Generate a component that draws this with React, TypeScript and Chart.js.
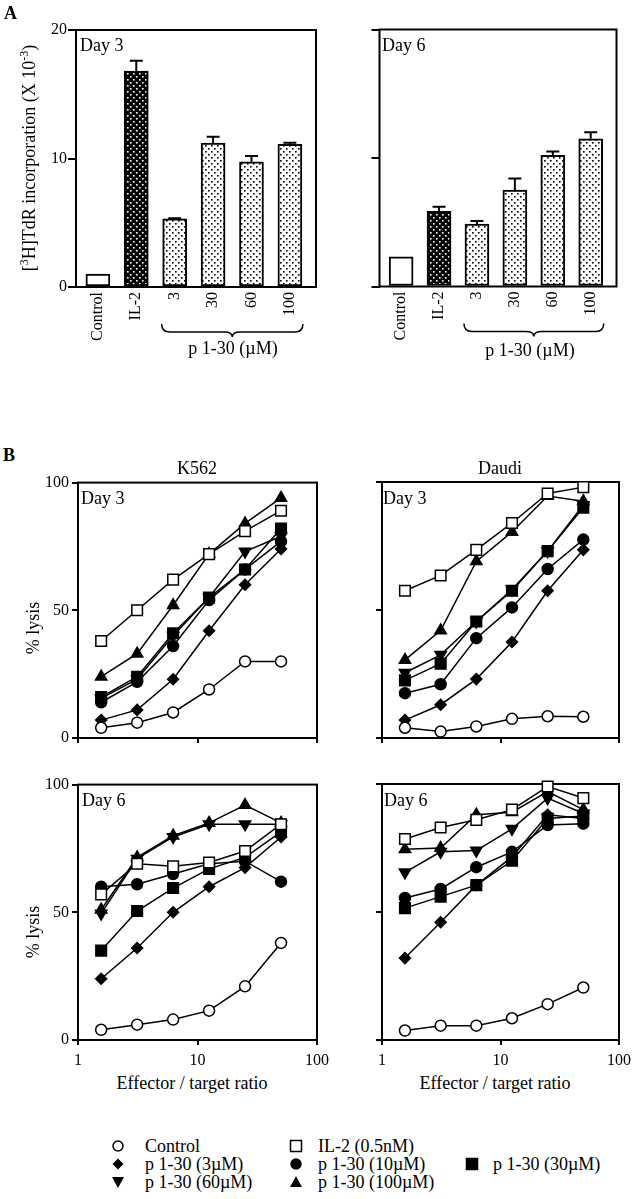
import React, { useEffect, useRef } from 'react';
import { Chart, registerables } from 'chart.js';

Chart.register(...registerables);

// ---------- Panel A data ----------
const BAR_CATEGORIES = ['Control', 'IL-2', '3', '30', '60', '100'];
const BAR_Y_TICKS = [0, 10, 20];
const DAY3_BARS = [1.0, 16.8, 5.3, 11.2, 9.75, 11.1];
const DAY3_ERRORS = [0, 0.8, 0.05, 0.5, 0.45, 0.12];
const DAY6_BARS = [2.3, 5.85, 4.85, 7.5, 10.2, 11.5];
const DAY6_ERRORS = [0, 0.35, 0.25, 0.9, 0.3, 0.5];

// ---------- Panel B data ----------
const ET_RATIOS = [1.5625, 3.125, 6.25, 12.5, 25, 50];
const X_TICKS = [1, 10, 100];
const LYSIS_TICKS = [0, 50, 100];
const SERIES_LABELS = ['Control', 'IL-2 (0.5nM)', 'p 1-30 (3µM)', 'p 1-30 (10µM)', 'p 1-30 (30µM)', 'p 1-30 (60µM)', 'p 1-30 (100µM)'];

const K562_D3_CONTROL = [4, 6, 10, 19, 30, 30];
const K562_D3_IL2 = [38, 50, 62, 72, 81, 89];
const K562_D3_P3 = [7, 11, 23, 42, 60, 74];
const K562_D3_P10 = [14, 22, 36, 54, 66, 77];
const K562_D3_P30 = [16, 24, 41, 55, 66, 82];
const K562_D3_P60 = [15.5, 23, 40, 55, 73, 79];
const K562_D3_P100 = [24, 33, 52, 72, 84, 94];

const DAUDI_D3_CONTROL = [4, 2.5, 4.5, 7.5, 8.5, 8.3];
const DAUDI_D3_IL2 = [57.5, 63.5, 73.5, 84, 95.5, 98];
const DAUDI_D3_P3 = [7, 13, 23, 37.5, 57.5, 73.5];
const DAUDI_D3_P10 = [17.5, 21, 39, 51, 66, 77.5];
const DAUDI_D3_P30 = [22.5, 29, 45.5, 57.5, 73, 90];
const DAUDI_D3_P60 = [25.5, 32.5, 45.5, 58, 73, 91];
const DAUDI_D3_P100 = [30.5, 42, 69, 80.5, 94.5, 92.5];

const K562_D6_CONTROL = [4, 6, 8, 11.5, 21, 38];
const K562_D6_IL2 = [57, 69, 68, 69.5, 74, 84.5];
const K562_D6_P3 = [24, 36, 50, 60, 67.5, 79.5];
const K562_D6_P10 = [60, 61, 65, 69, 70, 62];
const K562_D6_P30 = [35, 50.5, 59.5, 67, 71.5, 81.5];
const K562_D6_P60 = [49.5, 71, 79.5, 84.5, 84.5, 84.5];
const K562_D6_P100 = [51, 71.5, 80, 85, 92, 85];

const DAUDI_D6_CONTROL = [3.7, 5.6, 5.6, 8.5, 14, 20.5];
const DAUDI_D6_IL2 = [78.5, 83, 86, 90, 99, 94.5];
const DAUDI_D6_P3 = [32, 46, 60.5, 71.5, 88, 86.5];
const DAUDI_D6_P10 = [55.5, 59, 67.5, 73.5, 84, 84.5];
const DAUDI_D6_P30 = [51.5, 56, 60.5, 70, 86.5, 87.5];
const DAUDI_D6_P60 = [65.5, 73.5, 74, 82.5, 94.5, 88.5];
const DAUDI_D6_P100 = [74.5, 75, 88, 89, 97, 90];

const K562_D3 = [K562_D3_CONTROL, K562_D3_IL2, K562_D3_P3, K562_D3_P10, K562_D3_P30, K562_D3_P60, K562_D3_P100];
const DAUDI_D3 = [DAUDI_D3_CONTROL, DAUDI_D3_IL2, DAUDI_D3_P3, DAUDI_D3_P10, DAUDI_D3_P30, DAUDI_D3_P60, DAUDI_D3_P100];
const K562_D6 = [K562_D6_CONTROL, K562_D6_IL2, K562_D6_P3, K562_D6_P10, K562_D6_P30, K562_D6_P60, K562_D6_P100];
const DAUDI_D6 = [DAUDI_D6_CONTROL, DAUDI_D6_IL2, DAUDI_D6_P3, DAUDI_D6_P10, DAUDI_D6_P30, DAUDI_D6_P60, DAUDI_D6_P100];

// ---------- styles ----------
const FONT = '"Liberation Serif", "Times New Roman", serif';
const MARKERS = [
  { style: 'circle', filled: false, r: 5.5, rot: 0 },
  { style: 'rect', filled: false, r: 7.5, rot: 0 },
  { style: 'rectRot', filled: true, r: 5.5, rot: 0 },
  { style: 'circle', filled: true, r: 5.5, rot: 0 },
  { style: 'rect', filled: true, r: 7.5, rot: 0 },
  { style: 'triangle', filled: true, r: 6.5, rot: 180 },
  { style: 'triangle', filled: true, r: 6.5, rot: 0 },
];

const boxPlugin = {
  id: 'box',
  beforeDatasetsDraw(chart: any) {
    const { ctx, chartArea: a } = chart;
    ctx.save();
    ctx.strokeStyle = '#000';
    ctx.lineWidth = 2;
    ctx.strokeRect(a.left, a.top, a.right - a.left, a.bottom - a.top);
    ctx.restore();
  },
};

const errorBarPlugin = {
  id: 'errorBars',
  afterDatasetsDraw(chart: any, _args: any, opts: any) {
    if (!opts || !opts.errors) return;
    const meta = chart.getDatasetMeta(0);
    const ys = chart.scales.y;
    const ctx = chart.ctx;
    const ds = chart.data.datasets[0].data;
    ctx.save();
    ctx.strokeStyle = '#000';
    ctx.lineWidth = 2;
    meta.data.forEach((bar: any, i: number) => {
      const e = opts.errors[i];
      if (!e) return;
      const v = ds[i].y;
      const base = ys.getPixelForValue(v);
      const top = ys.getPixelForValue(v + e);
      ctx.beginPath();
      ctx.moveTo(bar.x, base);
      ctx.lineTo(bar.x, top);
      ctx.moveTo(bar.x - 6.5, top);
      ctx.lineTo(bar.x + 6.5, top);
      ctx.stroke();
    });
    ctx.restore();
  },
};

const bracePlugin = {
  id: 'brace',
  afterDraw(chart: any, _args: any, opts: any) {
    if (!opts || opts.from == null) return;
    const xs = chart.scales.x;
    const ctx = chart.ctx;
    const b = chart.chartArea.bottom;
    const x0 = xs.getPixelForValue(opts.from) - 13;
    const x1 = xs.getPixelForValue(opts.to) + 13;
    const xm = (x0 + x1) / 2;
    const yE = b + 37, yL = b + 45, yT = b + 50;
    ctx.save();
    ctx.strokeStyle = '#000';
    ctx.lineWidth = 1.5;
    ctx.beginPath();
    ctx.moveTo(x0, yE);
    ctx.quadraticCurveTo(x0, yL, x0 + 8, yL);
    ctx.lineTo(xm - 8, yL);
    ctx.quadraticCurveTo(xm, yL, xm, yT);
    ctx.quadraticCurveTo(xm, yL, xm + 8, yL);
    ctx.lineTo(x1 - 8, yL);
    ctx.quadraticCurveTo(x1, yL, x1, yE);
    ctx.stroke();
    ctx.restore();
  },
};

function makePattern(bg: string, dot: string) {
  const c = document.createElement('canvas');
  c.width = 6;
  c.height = 6;
  const g = c.getContext('2d')!;
  g.fillStyle = bg;
  g.fillRect(0, 0, 6, 6);
  g.fillStyle = dot;
  g.fillRect(1, 1, 1.6, 1.6);
  g.fillRect(4, 4, 1.6, 1.6);
  return g.createPattern(c, 'repeat');
}

type Box = { yWidth: number; xHeight: number; padTop: number; padRight: number };

function barChart(canvas: HTMLCanvasElement, values: number[], errors: number[], fills: any[], o: Box & { yLabels: boolean }) {
  return new Chart(canvas, {
    type: 'bar',
    data: {
      datasets: [
        {
          data: values.map((y, i) => ({ x: i, y })),
          backgroundColor: fills,
          borderColor: '#000',
          borderWidth: 2,
          borderSkipped: false,
          barThickness: 24,
        } as any,
      ],
    },
    options: {
      responsive: false,
      animation: false,
      events: [],
      layout: { padding: { top: o.padTop, right: o.padRight, left: 0, bottom: 0 } },
      plugins: {
        legend: { display: false },
        tooltip: { enabled: false },
        errorBars: { errors },
        brace: { from: 2, to: 5 },
      } as any,
      scales: {
        x: {
          type: 'linear',
          min: -0.57,
          max: 5.68,
          offset: false,
          afterBuildTicks: (s: any) => {
            s.ticks = BAR_CATEGORIES.map((_, i) => ({ value: i }));
          },
          afterFit: (s: any) => {
            s.height = o.xHeight;
          },
          grid: { display: false, drawTicks: false },
          border: { display: false },
          ticks: {
            color: '#000',
            font: { family: FONT, size: 16 },
            minRotation: 90,
            maxRotation: 90,
            autoSkip: false,
            padding: 5,
            callback: (v: any) => BAR_CATEGORIES[Math.round(Number(v))],
          },
        },
        y: {
          type: 'linear',
          min: 0,
          max: 20,
          afterBuildTicks: (s: any) => {
            s.ticks = BAR_Y_TICKS.map((v) => ({ value: v }));
          },
          afterFit: (s: any) => {
            s.width = o.yWidth;
          },
          grid: { drawOnChartArea: false, drawTicks: true, tickLength: 8, color: '#000', lineWidth: 2 },
          border: { display: false },
          ticks: { display: o.yLabels, color: '#000', font: { family: FONT, size: 16 }, padding: 1 },
        },
      } as any,
    },
    plugins: [boxPlugin, errorBarPlugin, bracePlugin],
  } as any);
}

function lineChart(canvas: HTMLCanvasElement, series: number[][], o: Box & { yLabels: boolean; xLabels: boolean }) {
  return new Chart(canvas, {
    type: 'line',
    data: {
      datasets: series.map((vals, i) => ({
        label: SERIES_LABELS[i],
        data: ET_RATIOS.map((x, j) => ({ x, y: vals[j] })),
        borderColor: '#000',
        borderWidth: 1.5,
        pointStyle: MARKERS[i].style,
        pointRadius: MARKERS[i].r,
        pointRotation: MARKERS[i].rot,
        pointBackgroundColor: MARKERS[i].filled ? '#000' : '#fff',
        pointBorderColor: '#000',
        pointBorderWidth: 1.5,
        tension: 0,
        fill: false,
        clip: false,
      })) as any,
    },
    options: {
      responsive: false,
      animation: false,
      events: [],
      layout: { padding: { top: o.padTop, right: o.padRight, left: 0, bottom: 0 } },
      plugins: { legend: { display: false }, tooltip: { enabled: false } },
      scales: {
        x: {
          type: 'logarithmic',
          min: 1,
          max: 100,
          afterBuildTicks: (s: any) => {
            s.ticks = X_TICKS.map((v) => ({ value: v, major: true }));
          },
          afterFit: (s: any) => {
            s.height = o.xHeight;
          },
          grid: { drawOnChartArea: false, drawTicks: true, tickLength: 5, color: '#000', lineWidth: 2 },
          border: { display: false },
          ticks: {
            display: o.xLabels,
            color: '#000',
            font: { family: FONT, size: 16 },
            padding: 6,
            maxRotation: 0,
            autoSkip: false,
            callback: (v: any) => String(v),
          },
        },
        y: {
          type: 'linear',
          min: 0,
          max: 100,
          afterBuildTicks: (s: any) => {
            s.ticks = LYSIS_TICKS.map((v) => ({ value: v }));
          },
          afterFit: (s: any) => {
            s.width = o.yWidth;
          },
          grid: { drawOnChartArea: false, drawTicks: true, tickLength: 6, color: '#000', lineWidth: 2 },
          border: { display: false },
          ticks: { display: o.yLabels, color: '#000', font: { family: FONT, size: 16 }, padding: 3 },
        },
      } as any,
    },
    plugins: [boxPlugin],
  } as any);
}

const Txt = ({ x, y, children, center = false, size = 18, bold = false, rotate = false }: any) => (
  <div
    style={{
      position: 'absolute',
      left: x,
      top: y,
      transform: `${center ? 'translate(-50%, -50%)' : 'translateY(-50%)'}${rotate ? ' rotate(-90deg)' : ''}`,
      fontFamily: FONT,
      fontSize: size,
      fontWeight: bold ? 'bold' : 'normal',
      lineHeight: 1,
      whiteSpace: 'nowrap',
      color: '#000',
    }}
  >
    {children}
  </div>
);

const Marker = ({ kind }: { kind: number }) => {
  const m = MARKERS[kind];
  const fill = m.filled ? '#000' : '#fff';
  let shape: any = null;
  if (m.style === 'circle') shape = <circle cx={7} cy={7} r={5} fill={fill} stroke="#000" strokeWidth={1.5} />;
  else if (m.style === 'rect') shape = <rect x={1.5} y={1.5} width={11} height={11} fill={fill} stroke="#000" strokeWidth={1.5} />;
  else if (m.style === 'rectRot') shape = <polygon points="7,1.5 12.5,7 7,12.5 1.5,7" fill={fill} />;
  else if (m.rot === 180) shape = <polygon points="1,2 13,2 7,13" fill={fill} />;
  else shape = <polygon points="1,12 13,12 7,1" fill={fill} />;
  return (
    <svg width={14} height={14} style={{ display: 'block' }}>
      {shape}
    </svg>
  );
};

const LEGEND_LAYOUT = [
  { kind: 0, mx: 118, tx: 145, y: 1146 },
  { kind: 2, mx: 118, tx: 145, y: 1164 },
  { kind: 5, mx: 118, tx: 145, y: 1182 },
  { kind: 1, mx: 296, tx: 318, y: 1146 },
  { kind: 3, mx: 296, tx: 318, y: 1164 },
  { kind: 6, mx: 296, tx: 318, y: 1182 },
  { kind: 4, mx: 472, tx: 493, y: 1164 },
];

const CANVASES = [
  { key: 'a3', left: 0, top: 0, w: 330, h: 360 },
  { key: 'a6', left: 330, top: 0, w: 307, h: 360 },
  { key: 'k3', left: 0, top: 470, w: 335, h: 282 },
  { key: 'd3', left: 335, top: 470, w: 302, h: 282 },
  { key: 'k6', left: 0, top: 772, w: 335, h: 300 },
  { key: 'd6', left: 335, top: 772, w: 302, h: 300 },
];

export default function App() {
  const refs = useRef<Record<string, HTMLCanvasElement | null>>({});

  useEffect(() => {
    const light = makePattern('#fff', '#000');
    const dark = makePattern('#000', '#fff');
    const fills = ['#fff', dark, light, light, light, light];
    const r = refs.current;
    const charts = [
      barChart(r.a3!, DAY3_BARS, DAY3_ERRORS, fills, { yWidth: 76, xHeight: 73, padTop: 30, padRight: 14, yLabels: true }),
      barChart(r.a6!, DAY6_BARS, DAY6_ERRORS, fills, { yWidth: 49.5, xHeight: 73.5, padTop: 29.5, padRight: 20.5, yLabels: false }),
      lineChart(r.k3!, K562_D3, { yWidth: 78, xHeight: 14, padTop: 12, padRight: 18, yLabels: true, xLabels: false }),
      lineChart(r.d3!, DAUDI_D3, { yWidth: 47, xHeight: 14, padTop: 12, padRight: 18, yLabels: false, xLabels: false }),
      lineChart(r.k6!, K562_D6, { yWidth: 78, xHeight: 32, padTop: 12, padRight: 18, yLabels: true, xLabels: true }),
      lineChart(r.d6!, DAUDI_D6, { yWidth: 47, xHeight: 32, padTop: 12, padRight: 18, yLabels: false, xLabels: true }),
    ];
    return () => charts.forEach((c) => c.destroy());
  }, []);

  return (
    <div style={{ position: 'absolute', left: 0, top: 0, width: 637, height: 1199, background: '#fff', overflow: 'hidden' }}>
      {CANVASES.map((c) => (
        <canvas
          key={c.key}
          ref={(el) => {
            refs.current[c.key] = el;
          }}
          width={c.w}
          height={c.h}
          style={{ position: 'absolute', left: c.left, top: c.top, width: c.w, height: c.h }}
        />
      ))}

      <Txt x={4} y={13} bold>A</Txt>
      <Txt x={80} y={45}>Day 3</Txt>
      <Txt x={382} y={45}>Day 6</Txt>
      <Txt x={28} y={158} center rotate>
        [<sup style={{ fontSize: 12 }}>3</sup>H]TdR incorporation (X 10<sup style={{ fontSize: 12 }}>-3</sup>)
      </Txt>
      <Txt x={233} y={348} center>p 1-30 (µM)</Txt>
      <Txt x={530} y={350} center>p 1-30 (µM)</Txt>

      <Txt x={3} y={455} bold>B</Txt>
      <Txt x={197} y={468} center>K562</Txt>
      <Txt x={500} y={468} center>Daudi</Txt>
      <Txt x={81} y={498}>Day 3</Txt>
      <Txt x={383} y={498}>Day 3</Txt>
      <Txt x={82} y={800}>Day 6</Txt>
      <Txt x={384} y={800}>Day 6</Txt>
      <Txt x={33} y={628} center rotate>% lysis</Txt>
      <Txt x={33} y={932} center rotate>% lysis</Txt>
      <Txt x={192} y={1083} center>Effector / target ratio</Txt>
      <Txt x={495} y={1083} center>Effector / target ratio</Txt>

      {LEGEND_LAYOUT.map((l) => (
        <React.Fragment key={l.kind}>
          <div style={{ position: 'absolute', left: l.mx - 7, top: l.y - 7 }}>
            <Marker kind={l.kind} />
          </div>
          <Txt x={l.tx} y={l.y}>{SERIES_LABELS[l.kind]}</Txt>
        </React.Fragment>
      ))}
    </div>
  );
}
